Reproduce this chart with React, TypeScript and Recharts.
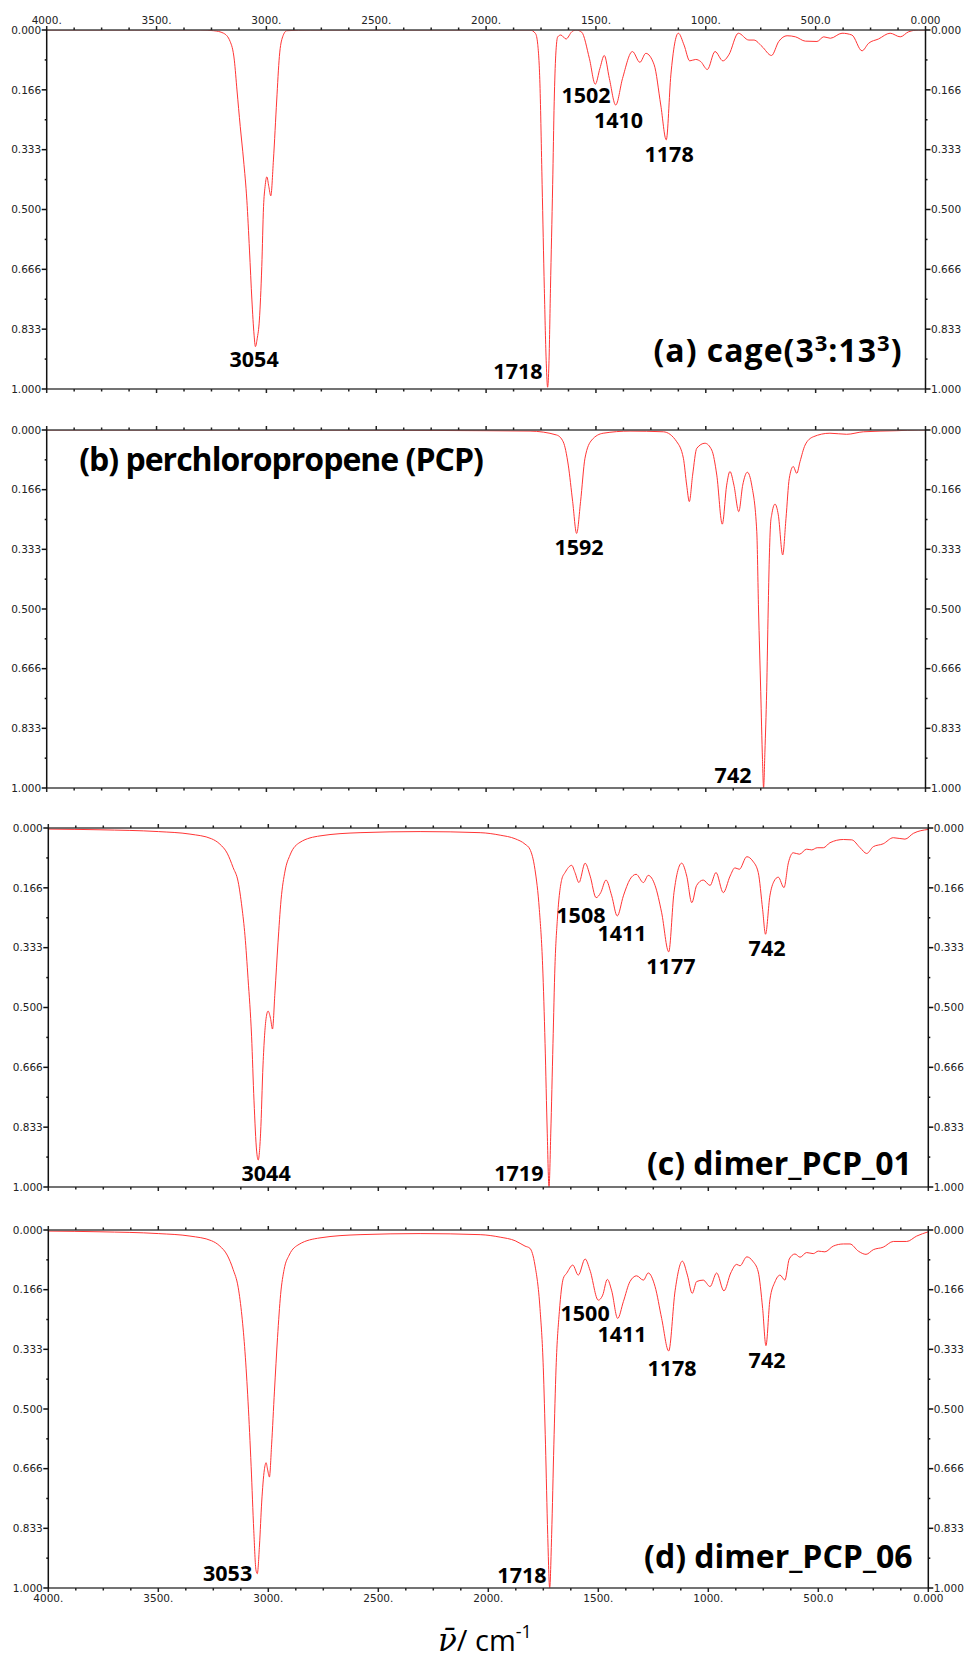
import React from "react"
import { LineChart, Line, XAxis, YAxis, ReferenceDot } from "recharts"

// (a) cage(3^3:13^3) - wavenumber / normalised absorbance
const cageWn = [
  4000, 3600, 3300, 3240, 3195, 3165, 3146, 3134, 3119, 3104, 3089, 3077, 3066, 3056, 3050, 3042,
  3032, 3021, 3013, 3006, 2998, 2989, 2980, 2968, 2953, 2941, 2926, 2907, 2800, 2400, 2000, 1800,
  1775, 1765, 1755, 1745, 1735, 1726, 1720, 1714, 1707, 1697, 1690, 1683, 1674, 1660, 1636, 1610,
  1591, 1565, 1530, 1503, 1482, 1462, 1439, 1410, 1379, 1334, 1300, 1273, 1235, 1205, 1180, 1159,
  1125, 1099, 1073, 1046, 1023, 993, 958, 922, 895, 852, 804, 781, 744, 701, 668, 630,
  592, 547, 494, 463, 433, 380, 335, 289, 259, 214, 161, 115, 77, 32, 0,
]
const cageAbs = [
  0, 0, 0, 0.002, 0.009, 0.032, 0.084, 0.167, 0.269, 0.362, 0.474, 0.613, 0.752, 0.85, 0.882, 0.86,
  0.808, 0.659, 0.492, 0.436, 0.409, 0.436, 0.462, 0.362, 0.195, 0.074, 0.019, 0.002, 0, 0, 0, 0,
  0.01, 0.04, 0.15, 0.43, 0.72, 0.93, 0.995, 0.93, 0.72, 0.43, 0.2, 0.07, 0.019, 0.014, 0.025, 0.005,
  0, 0.006, 0.079, 0.151, 0.107, 0.071, 0.135, 0.209, 0.135, 0.06, 0.09, 0.065, 0.097, 0.209, 0.306, 0.125,
  0.009, 0.042, 0.086, 0.082, 0.088, 0.11, 0.06, 0.086, 0.069, 0.009, 0.028, 0.028, 0.046, 0.071, 0.032, 0.016,
  0.019, 0.031, 0.032, 0.019, 0.023, 0.009, 0.014, 0.058, 0.037, 0.025, 0.009, 0.019, 0.005, 0, 0,
]

// (b) perchloropropene (PCP)
const pcpWn = [
  4000, 3000, 2000, 1800, 1679, 1649, 1626, 1606, 1588, 1570, 1550, 1519, 1467, 1345, 1193, 1132,
  1102, 1087, 1075, 1060, 1041, 1004, 973, 950, 925, 905, 890, 872, 850, 832, 811, 791,
  768, 760, 750, 742, 737, 731, 723, 716, 711, 705, 700, 685, 670, 650, 635, 620,
  602, 586, 571, 548, 511, 435, 359, 283, 131, 33, 0,
]
const pcpAbs = [
  0, 0, 0.002, 0.003, 0.014, 0.033, 0.098, 0.2, 0.289, 0.2, 0.079, 0.028, 0.009, 0.003, 0.005, 0.033,
  0.079, 0.154, 0.2, 0.126, 0.051, 0.037, 0.056, 0.126, 0.263, 0.154, 0.116, 0.154, 0.228, 0.154, 0.118, 0.154,
  0.284, 0.5, 0.73, 0.92, 1.0, 0.9, 0.73, 0.5, 0.36, 0.26, 0.237, 0.207, 0.237, 0.349, 0.247, 0.135,
  0.102, 0.121, 0.088, 0.042, 0.019, 0.009, 0.012, 0.005, 0.002, 0, 0,
]

// (c) dimer_PCP_01
const d01Wn = [
  4000, 3765, 3500, 3356, 3258, 3220, 3187, 3160, 3137, 3120, 3106, 3092, 3076, 3065, 3053, 3046,
  3035, 3024, 3010, 3001, 2990, 2981, 2970, 2956, 2942, 2924, 2901, 2856, 2765, 2583, 2310, 2037,
  1946, 1878, 1833, 1811, 1788, 1768, 1753, 1742, 1732, 1724, 1716, 1706, 1697, 1686, 1666, 1651,
  1621, 1606, 1588, 1560, 1537, 1510, 1489, 1465, 1439, 1414, 1386, 1356, 1328, 1295, 1273, 1242,
  1212, 1180, 1156, 1121, 1098, 1075, 1053, 1023, 992, 965, 932, 901, 879, 859, 825, 798,
  773, 753, 740, 720, 701, 682, 656, 636, 614, 586, 553, 530, 505, 477, 447, 386,
  348, 310, 280, 250, 205, 159, 106, 68, 0,
]
const d01Abs = [
  0.003, 0.005, 0.01, 0.017, 0.03, 0.045, 0.07, 0.11, 0.15, 0.22, 0.3, 0.42, 0.58, 0.76, 0.9, 0.925,
  0.85, 0.66, 0.53, 0.51, 0.53, 0.56, 0.46, 0.32, 0.2, 0.12, 0.075, 0.04, 0.022, 0.013, 0.01, 0.013,
  0.02, 0.03, 0.045, 0.059, 0.115, 0.227, 0.384, 0.6, 0.85, 1.0, 0.85, 0.6, 0.384, 0.254, 0.143, 0.124,
  0.104, 0.124, 0.152, 0.098, 0.134, 0.194, 0.18, 0.145, 0.189, 0.245, 0.189, 0.143, 0.129, 0.152, 0.132, 0.16,
  0.236, 0.345, 0.18, 0.098, 0.134, 0.208, 0.16, 0.145, 0.16, 0.124, 0.18, 0.134, 0.111, 0.115, 0.08, 0.092,
  0.124, 0.227, 0.296, 0.189, 0.148, 0.137, 0.166, 0.097, 0.069, 0.073, 0.059, 0.061, 0.055, 0.055, 0.041, 0.032,
  0.033, 0.055, 0.071, 0.052, 0.044, 0.027, 0.031, 0.015, 0.004,
]

// (d) dimer_PCP_06
const d06Wn = [
  4000, 3765, 3500, 3356, 3258, 3220, 3187, 3160, 3137, 3120, 3106, 3092, 3078, 3066, 3056, 3050,
  3040, 3030, 3018, 3010, 3003, 2995, 2985, 2972, 2958, 2944, 2928, 2905, 2860, 2765, 2583, 2310,
  2037, 1946, 1878, 1833, 1811, 1788, 1765, 1750, 1740, 1730, 1721, 1712, 1702, 1692, 1677, 1659,
  1644, 1616, 1591, 1560, 1538, 1500, 1480, 1459, 1439, 1412, 1386, 1356, 1326, 1295, 1273, 1242,
  1212, 1180, 1151, 1118, 1095, 1073, 1053, 1023, 992, 962, 929, 898, 871, 856, 825, 798,
  773, 753, 738, 720, 697, 674, 652, 632, 606, 583, 553, 523, 500, 470, 432, 386,
  356, 318, 283, 250, 205, 159, 98, 53, 0,
]
const d06Abs = [
  0.003, 0.005, 0.01, 0.017, 0.03, 0.045, 0.07, 0.11, 0.16, 0.24, 0.34, 0.48, 0.66, 0.84, 0.95, 0.96,
  0.88, 0.76, 0.67, 0.65, 0.67, 0.69, 0.6, 0.45, 0.3, 0.18, 0.11, 0.07, 0.04, 0.022, 0.013, 0.01,
  0.013, 0.02, 0.03, 0.045, 0.051, 0.098, 0.219, 0.385, 0.6, 0.85, 1.0, 0.85, 0.6, 0.385, 0.228, 0.135,
  0.121, 0.098, 0.126, 0.081, 0.112, 0.196, 0.182, 0.138, 0.17, 0.247, 0.2, 0.144, 0.128, 0.14, 0.12, 0.158,
  0.247, 0.338, 0.17, 0.087, 0.126, 0.177, 0.144, 0.14, 0.158, 0.12, 0.17, 0.12, 0.096, 0.1, 0.075, 0.087,
  0.117, 0.219, 0.323, 0.195, 0.145, 0.126, 0.14, 0.081, 0.067, 0.076, 0.063, 0.066, 0.059, 0.061, 0.045, 0.039,
  0.039, 0.059, 0.068, 0.055, 0.048, 0.032, 0.032, 0.017, 0.005,
]

// peak annotations: text, anchor wavenumber, anchor baseline (absorbance units)
const cageNotes = ["3054", "1718", "1502", "1410", "1178"]
const cageNoteWn = [3056, 1855, 1545, 1397, 1167]
const cageNoteY = [0.938, 0.971, 0.204, 0.272, 0.367]

const pcpNotes = ["1592", "742"]
const pcpNoteWn = [1577, 876]
const pcpNoteY = [0.349, 0.985]

const d01Notes = ["3044", "1719", "1508", "1411", "1177", "742"]
const d01NoteWn = [3010, 1861, 1579, 1392, 1170, 733]
const d01NoteY = [0.983, 0.983, 0.264, 0.315, 0.407, 0.357]

const d06Notes = ["3053", "1718", "1500", "1411", "1178", "742"]
const d06NoteWn = [3185, 1847, 1560, 1392, 1165, 733]
const d06NoteY = [0.98, 0.986, 0.253, 0.314, 0.408, 0.385]

// axis ticks
const xMajor = [4000, 3500, 3000, 2500, 2000, 1500, 1000, 500, 0]
const xLabels = ["4000.", "3500.", "3000.", "2500.", "2000.", "1500.", "1000.", "500.0", "0.000"]
const xTicks = [
  4000, 3875, 3750, 3625, 3500, 3375, 3250, 3125, 3000, 2875, 2750, 2625, 2500, 2375, 2250, 2125,
  2000, 1875, 1750, 1625, 1500, 1375, 1250, 1125, 1000, 875, 750, 625, 500, 375, 250, 125, 0,
]
const yTicks = [0, 1 / 12, 1 / 6, 3 / 12, 2 / 6, 5 / 12, 3 / 6, 7 / 12, 4 / 6, 9 / 12, 5 / 6, 11 / 12, 1]
const yLabels = ["0.000", "0.166", "0.333", "0.500", "0.666", "0.833", "1.000"]

const W = 965
const RED = "#ff3535"
const TICK_FONT = "'DejaVu Sans', sans-serif"
const NOTE_FONT = "'Open Sans', sans-serif"

const rows = (wn: number[], v: number[]) => wn.map((w, i) => ({ wn: w, v: v[i] }))

function XTick(props: any) {
  const { x, y, payload, side, labels } = props
  const val = payload.value
  const idx = xMajor.indexOf(val)
  const major = idx >= 0
  const dir = side === "top" ? -1 : 1
  return (
    <g>
      <line x1={x} x2={x} y1={y} y2={y + dir * (major ? 4 : 2.5)} stroke="#222" strokeWidth={1.5} />
      {labels && major && (
        <text x={x} y={side === "top" ? y - 6 : y + 14} textAnchor="middle" fontFamily={TICK_FONT} fontSize={10.5} fill="#222">
          {xLabels[idx]}
        </text>
      )}
    </g>
  )
}

function YTick(props: any) {
  const { x, y, index, side } = props
  const major = index % 2 === 0
  const dir = side === "left" ? -1 : 1
  return (
    <g>
      <line x1={x} x2={x + dir * (major ? 5 : 2)} y1={y} y2={y} stroke="#111" strokeWidth={1.5} />
      {major && (
        <text
          x={x + dir * 5.5}
          y={y}
          dy="0.35em"
          textAnchor={side === "left" ? "end" : "start"}
          fontFamily={TICK_FONT}
          fontSize={10.5}
          fill="#222"
        >
          {yLabels[index / 2]}
        </text>
      )}
    </g>
  )
}

interface PanelProps {
  top: number
  height: number
  left: number
  right: number
  data: { wn: number; v: number }[]
  labelSide?: "top" | "bottom"
  notes: string[]
  noteWn: number[]
  noteY: number[]
  title: React.ReactNode
  titleWn: number
  titleY: number
  titleSpacing?: number
}

function Panel({ top, height, left, right, data, labelSide, notes, noteWn, noteY, title, titleWn, titleY, titleSpacing = 0 }: PanelProps) {
  const H = height + 60
  const xCommon = {
    dataKey: "wn",
    type: "number" as const,
    domain: [0, 4000],
    reversed: true,
    allowDataOverflow: true,
    ticks: xTicks,
    interval: 0 as const,
    height: 20,
    tickSize: 0,
    tickMargin: 0,
    tickLine: false,
    axisLine: { stroke: "#444", strokeWidth: 1.5 },
  }
  const yCommon = {
    type: "number" as const,
    domain: [0, 1],
    reversed: true,
    allowDataOverflow: true,
    ticks: yTicks,
    interval: 0 as const,
    tickSize: 0,
    tickMargin: 0,
    tickLine: false,
    axisLine: { stroke: "#111", strokeWidth: 1.5 },
  }
  return (
    <div style={{ position: "absolute", left: 0, top: top - 30, width: W, height: H }}>
      <LineChart width={W} height={H} data={data} margin={{ top: 10, right: 0, bottom: 10, left: 0 }}>
        <XAxis xAxisId="top" orientation="top" {...xCommon} tick={(p: any) => <XTick {...p} side="top" labels={labelSide === "top"} />} />
        <XAxis xAxisId="bottom" orientation="bottom" {...xCommon} tick={(p: any) => <XTick {...p} side="bottom" labels={labelSide === "bottom"} />} />
        <YAxis yAxisId="left" orientation="left" width={left} {...yCommon} tick={(p: any) => <YTick {...p} side="left" />} />
        <YAxis yAxisId="right" orientation="right" width={W - right} {...yCommon} tick={(p: any) => <YTick {...p} side="right" />} />
        <Line
          xAxisId="bottom"
          yAxisId="left"
          dataKey="v"
          type="monotone"
          stroke={RED}
          strokeWidth={1}
          dot={false}
          activeDot={false}
          isAnimationActive={false}
        />
        {notes.map((t, i) => (
          <ReferenceDot
            key={t + i}
            xAxisId="bottom"
            yAxisId="left"
            x={noteWn[i]}
            y={noteY[i]}
            r={1}
            ifOverflow="visible"
            shape={(p: any) => (
              <text x={p.cx} y={p.cy} textAnchor="middle" fontFamily={NOTE_FONT} fontWeight={700} fontSize={21.5} fill="#000">
                {t}
              </text>
            )}
          />
        ))}
        <ReferenceDot
          xAxisId="bottom"
          yAxisId="left"
          x={titleWn}
          y={titleY}
          r={1}
          ifOverflow="visible"
          shape={(p: any) => (
            <text
              x={p.cx}
              y={p.cy}
              textAnchor="start"
              fontFamily={NOTE_FONT}
              fontWeight={700}
              fontSize={32}
              letterSpacing={titleSpacing}
              fill="#000"
            >
              {title}
            </text>
          )}
        />
      </LineChart>
    </div>
  )
}

export default function App() {
  return (
    <div style={{ position: "absolute", left: 0, top: 0, width: W, height: 1658, background: "#fff" }}>
      <Panel
        top={30}
        height={359}
        left={46.7}
        right={925.5}
        data={rows(cageWn, cageAbs)}
        labelSide="top"
        notes={cageNotes}
        noteWn={cageNoteWn}
        noteY={cageNoteY}
        title={
          <>
            (a) cage(3<tspan dy={-11} fontSize={22}>3</tspan>
            <tspan dy={11}>:13</tspan>
            <tspan dy={-11} fontSize={22}>3</tspan>
            <tspan dy={11}>)</tspan>
          </>
        }
        titleWn={1238}
        titleY={0.925}
        titleSpacing={1}
      />
      <Panel
        top={430}
        height={358}
        left={46.7}
        right={925.5}
        data={rows(pcpWn, pcpAbs)}
        notes={pcpNotes}
        noteWn={pcpNoteWn}
        noteY={pcpNoteY}
        title="(b) perchloropropene (PCP)"
        titleWn={3852}
        titleY={0.114}
        titleSpacing={-1}
      />
      <Panel
        top={827.5}
        height={359}
        left={48.3}
        right={928.3}
        data={rows(d01Wn, d01Abs)}
        notes={d01Notes}
        noteWn={d01NoteWn}
        noteY={d01NoteY}
        title="(c) dimer_PCP_01"
        titleWn={1279}
        titleY={0.967}
      />
      <Panel
        top={1230}
        height={358}
        left={48.3}
        right={928.3}
        data={rows(d06Wn, d06Abs)}
        labelSide="bottom"
        notes={d06Notes}
        noteWn={d06NoteWn}
        noteY={d06NoteY}
        title="(d) dimer_PCP_06"
        titleWn={1292}
        titleY={0.945}
      />
      <svg width={W} height={70} style={{ position: "absolute", left: 0, top: 1588 }}>
        <text x={438} y={63} fontFamily="'Open Sans', sans-serif" fontSize={29} fill="#000">
          <tspan fontFamily="'DejaVu Serif', serif" fontStyle="italic" fontSize={31}>
            {"\u03BD\u0304"}
          </tspan>
          <tspan>/ cm</tspan>
          <tspan dy={-13} fontSize={18}>
            -1
          </tspan>
        </text>
      </svg>
    </div>
  )
}
